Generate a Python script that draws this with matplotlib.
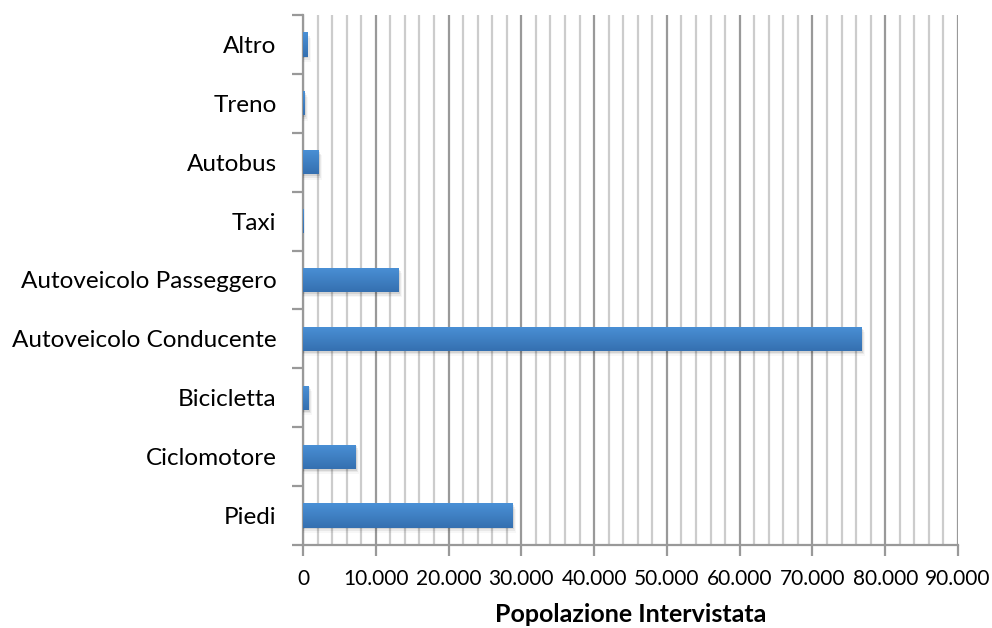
import numpy as np
import matplotlib
matplotlib.use("Agg")
import matplotlib.pyplot as plt
from matplotlib.ticker import FuncFormatter, MultipleLocator, FixedLocator
from matplotlib.patches import Rectangle
from matplotlib.colors import LinearSegmentedColormap

categories = ["Piedi", "Ciclomotore", "Bicicletta", "Autoveicolo Conducente",
              "Autoveicolo Passeggero", "Taxi", "Autobus", "Treno", "Altro"]
values = [28800, 7250, 800, 76800, 13150, 40, 2150, 250, 600]
xlabel = "Popolazione Intervistata"

plt.rcParams["font.family"] = ["Lato", "DejaVu Sans"]

fig = plt.figure(figsize=(9.92, 6.28), dpi=100)
ax = fig.add_axes([303 / 992, 1 - 545 / 628, 655 / 992, 530 / 628])

n = len(categories)
ypos = np.arange(n)
bar_h = 0.41

cmap = LinearSegmentedColormap.from_list("bar", ["#3570b0", "#4a90d6"])
grad = np.linspace(0, 1, 64).reshape(-1, 1)

for y, v in zip(ypos, values):
    # soft drop shadow below each bar
    if v > 100:
        for k, a in enumerate([0.09, 0.06, 0.03]):
            d = 0.03 * (k + 1)
            ax.add_patch(Rectangle((0, y - bar_h / 2 - d), v + 150 * (k + 1), bar_h,
                                   facecolor="black", alpha=a, edgecolor="none", zorder=3))
    bar = ax.barh(y, v, height=bar_h, color="#4283c8", edgecolor="none", zorder=4)[0]
    im = ax.imshow(grad, cmap=cmap, aspect="auto", origin="lower",
                   extent=(0, v, y - bar_h / 2, y + bar_h / 2), zorder=5)
    im.set_clip_path(bar)

ax.set_xlim(0, 90000)
ax.set_ylim(-0.5, n - 0.5)

ax.xaxis.set_major_locator(MultipleLocator(10000))
ax.xaxis.set_minor_locator(MultipleLocator(2000))
ax.xaxis.set_major_formatter(FuncFormatter(lambda x, p: "0" if x == 0 else f"{int(x):,}".replace(",", ".")))
ax.grid(which="major", axis="x", color="#999999", linewidth=1.6, zorder=1)
ax.grid(which="minor", axis="x", color="#cccccc", linewidth=1.6, zorder=1)
ax.set_axisbelow(True)

ax.set_yticks(ypos)
ax.set_yticklabels(categories)
ax.yaxis.set_minor_locator(FixedLocator(np.arange(-0.5, n, 1.0)))
ax.tick_params(axis="y", which="major", length=0, pad=19, labelsize=17.5)
ax.tick_params(axis="y", which="minor", length=8, width=1.6, color="#999999")
ax.tick_params(axis="x", which="major", length=8, width=1.6, color="#999999", labelsize=15, pad=9)
ax.tick_params(axis="x", which="minor", length=0)

for s in ["top", "right"]:
    ax.spines[s].set_visible(False)
for s in ["left", "bottom"]:
    ax.spines[s].set_color("#999999")
    ax.spines[s].set_linewidth(1.6)

ax.set_xlabel(xlabel, fontsize=18, fontweight="bold", labelpad=10)

fig.savefig("out.png", dpi=100)
